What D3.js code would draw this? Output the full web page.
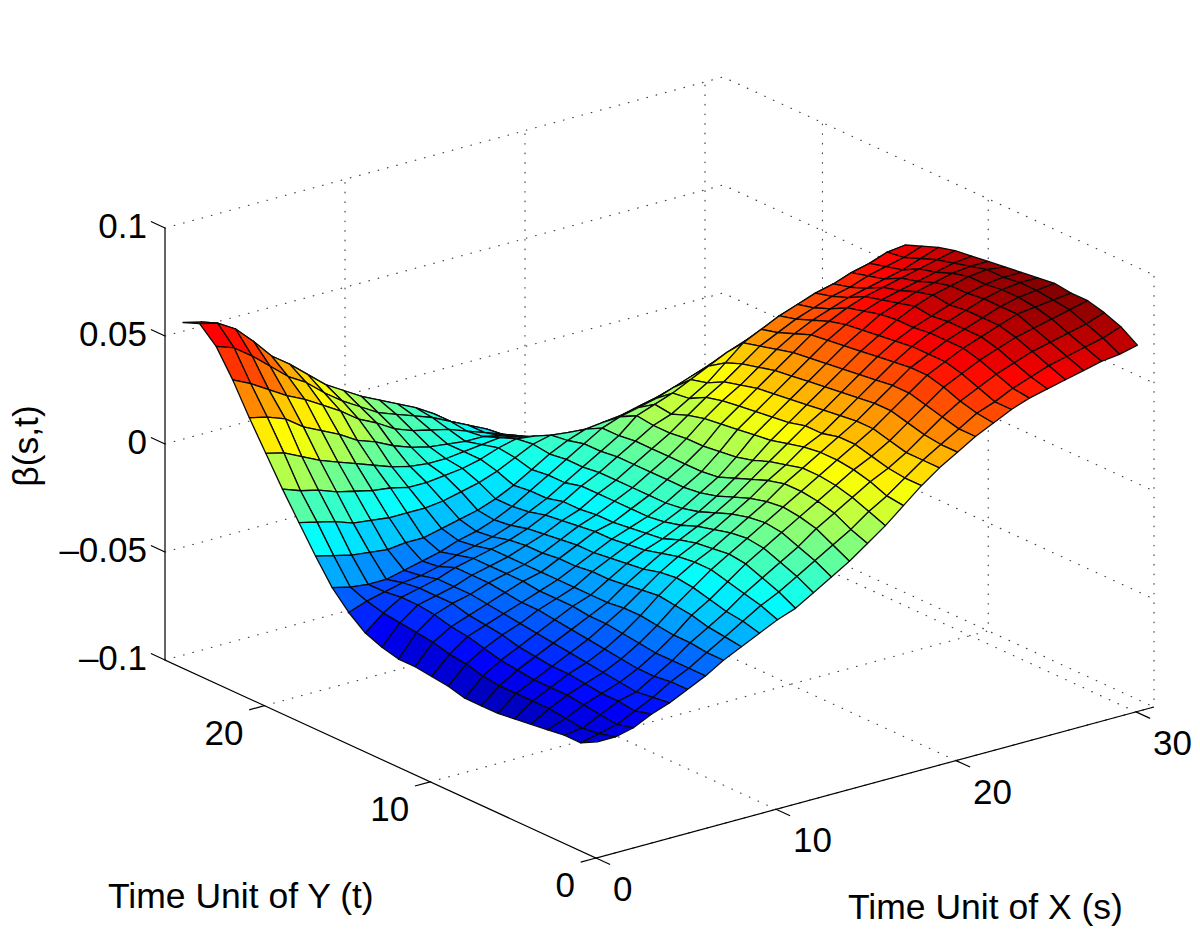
<!DOCTYPE html>
<html>
<head>
<meta charset="utf-8">
<style>
  body { margin: 0; background: #fff; }
  text { font-family: "Liberation Sans", Arial, sans-serif; fill: #000; }
</style>
<script src="https://cdn.jsdelivr.net/npm/d3@7"></script>
</head>
<body>
<div id="chart"></div>
<script>
var xTicks = [0, 10, 20, 30],
    yTicks = [0, 10, 20],
    zTicks = [-100, -50, 0, 50, 100],
    zTickLabels = ["–0.1", "–0.05", "0", "0.05", "0.1"],
    colorLimits = [-68, 75];

// beta(s,t) in thousandths. one row per t = 1..26, s = 1..31
var betaT01 = [-52,-52,-50,-46,-43,-39,-35,-30,-26,-22,-18,-15,-10,-5,0,6,12,19,26,32,37,42,46,50,53,55,57,59,61,62,64],
    betaT02 = [-56,-54,-52,-48,-44,-39,-35,-30,-25,-20,-15,-11,-6,-1,4,9,15,20,26,32,37,42,47,50,54,57,60,62,64,66,69],
    betaT03 = [-56,-55,-51,-47,-45,-40,-35,-29,-24,-19,-13,-8,-3,2,8,13,18,23,27,32,38,44,49,53,57,60,63,65,67,69,72],
    betaT04 = [-57,-54,-50,-47,-44,-40,-35,-29,-22,-17,-11,-5,0,5,10,15,20,25,29,34,40,46,52,56,60,63,66,68,70,72,74],
    betaT05 = [-58,-53,-49,-46,-43,-39,-34,-28,-21,-15,-9,-4,1,6,11,16,21,26,31,36,42,48,54,58,62,65,68,71,72,73,74],
    betaT06 = [-59,-53,-49,-45,-42,-38,-33,-27,-20,-14,-9,-5,0,5,10,16,21,26,31,36,42,48,54,58,62,65,68,71,73,74,75],
    betaT07 = [-60,-53,-49,-45,-41,-37,-32,-27,-21,-15,-10,-6,-2,3,8,14,19,25,29,35,41,47,53,58,62,65,68,71,73,74,74],
    betaT08 = [-60,-53,-48,-44,-40,-36,-32,-28,-22,-17,-12,-8,-4,0,5,11,17,23,29,34,40,46,52,57,61,64,67,70,72,73,73],
    betaT09 = [-60,-52,-47,-43,-39,-35,-31,-28,-23,-18,-14,-11,-7,-3,2,8,14,21,27,33,39,45,51,56,61,65,68,70,72,73,72],
    betaT10 = [-58,-50,-45,-41,-38,-34,-31,-28,-23,-19,-15,-12,-9,-5,0,5,12,20,26,32,38,44,50,55,60,63,66,68,70,71,71],
    betaT11 = [-57,-49,-43,-40,-37,-34,-31,-28,-24,-20,-16,-13,-10,-6,-1,4,11,19,25,31,37,43,49,54,58,61,63,65,67,69,70],
    betaT12 = [-56,-47,-42,-39,-36,-33,-30,-28,-24,-20,-16,-14,-10,-6,-1,4,10,18,24,30,36,42,48,52,56,59,61,63,65,67,69],
    betaT13 = [-56,-46,-40,-37,-35,-32,-30,-28,-25,-21,-17,-14,-10,-6,-1,4,10,17,23,28,34,40,45,49,52,55,57,59,61,64,67],
    betaT14 = [-54,-45,-39,-37,-35,-32,-30,-28,-25,-22,-18,-15,-10,-6,-1,4,9,15,21,26,32,38,42,46,49,52,54,57,59,61,64],
    betaT15 = [-51,-44,-39,-37,-35,-32,-30,-28,-26,-23,-19,-15,-10,-6,-1,4,9,12,17,22,29,36,40,44,47,50,52,55,57,60,61],
    betaT16 = [-45,-42,-40,-38,-37,-35,-32,-30,-28,-25,-21,-17,-12,-7,-2,3,10,13,16,20,24,28,31,34,37,39,41,43,46,49,52],
    betaT17 = [-37,-39,-40,-40,-38,-36,-34,-31,-29,-26,-22,-17,-12,-7,-2,3,6,8,10,13,16,19,21,24,26,28,30,32,34,37,40],
    betaT18 = [-26,-28,-30,-31,-32,-31,-31,-29,-27,-25,-22,-18,-13,-8,-4,-1,0,1,3,5,7,9,11,13,15,17,19,21,23,25,28],
    betaT19 = [-14,-16,-18,-21,-22,-23,-23,-23,-22,-20,-18,-15,-11,-7,-5,-6,-8,-8,-7,-6,-5,-4,-2,0,2,4,6,8,10,13,16],
    betaT20 = [-2,-5,-7,-10,-12,-14,-15,-17,-17,-16,-15,-13,-10,-8,-9,-12,-15,-15,-16,-16,-15,-14,-12,-10,-8,-6,-4,-2,0,2,4],
    betaT21 = [11,9,5,1,-2,-5,-8,-11,-13,-14,-14,-13,-12,-11,-13,-16,-19,-21,-21,-21,-21,-20,-19,-17,-15,-14,-12,-10,-8,-7,-6],
    betaT22 = [24,22,19,13,9,5,0,-3,-7,-10,-12,-13,-14,-14,-16,-19,-22,-24,-26,-26,-26,-25,-24,-23,-22,-21,-20,-19,-18,-17,-16],
    betaT23 = [38,34,29,24,20,15,10,4,0,-5,-8,-10,-12,-15,-18,-21,-24,-27,-30,-32,-33,-33,-33,-33,-32,-32,-32,-31,-31,-31,-31],
    betaT24 = [50,47,41,34,27,22,15,9,4,-1,-4,-7,-10,-14,-18,-22,-27,-31,-35,-38,-40,-42,-42,-42,-41,-41,-40,-40,-39,-39,-38],
    betaT25 = [57,55,50,42,33,27,20,13,8,3,-1,-5,-9,-14,-20,-25,-30,-35,-39,-42,-44,-46,-47,-47,-47,-46,-46,-45,-45,-44,-44],
    betaT26 = [54,52,48,42,32,25,17,11,5,-1,-5,-9,-13,-17,-21,-26,-31,-36,-40,-44,-47,-49,-50,-50,-50,-50,-49,-49,-48,-48,-47];

var beta = [betaT01, betaT02, betaT03, betaT04, betaT05, betaT06, betaT07, betaT08, betaT09, betaT10,
            betaT11, betaT12, betaT13, betaT14, betaT15, betaT16, betaT17, betaT18, betaT19, betaT20,
            betaT21, betaT22, betaT23, betaT24, betaT25, betaT26];

var width = 1200,
    height = 932,
    xMax = 31,
    yMax = 26;

var svg = d3.select("#chart").append("svg")
    .attr("width", width)
    .attr("height", height);

// the axes are oblique, so each data axis gets a scale for its screen x and its screen y
var xToU = d3.scaleLinear().domain([0, xMax]).range([0, 558]),
    xToV = d3.scaleLinear().domain([0, xMax]).range([0, -151]),
    yToU = d3.scaleLinear().domain([0, yMax]).range([0, -431]),
    yToV = d3.scaleLinear().domain([0, yMax]).range([0, -198]),
    zToV = d3.scaleLinear().domain([-100, 100]).range([0, -432]);

function project(x, y, z) {
  return [596 + xToU(x) + yToU(y), 858 + xToV(x) + yToV(y) + zToV(z)];
}

var line = d3.line();

// jet colormap
var jetT = d3.scaleLinear().domain(colorLimits).range([0, 1]),
    jet = d3.scaleLinear()
      .domain([0, 0.125, 0.375, 0.625, 0.875, 1])
      .range(["#00008f", "#0000ff", "#00ffff", "#ffff00", "#ff0000", "#800000"]);

// dotted grid on the two back walls and the floor
var gridLines = [];
zTicks.forEach(function(z) {
  gridLines.push([project(0, yMax, z), project(xMax, yMax, z), project(xMax, 0, z)]);
});
xTicks.slice(1).forEach(function(x) {
  gridLines.push([project(x, 0, -100), project(x, yMax, -100), project(x, yMax, 100)]);
});
yTicks.forEach(function(y) {
  gridLines.push([project(0, y, -100), project(xMax, y, -100), project(xMax, y, 100)]);
});

svg.append("g").attr("class", "grid")
  .selectAll("path")
    .data(gridLines)
  .enter().append("path")
    .attr("d", line)
    .attr("fill", "none")
    .attr("stroke", "#444")
    .attr("stroke-width", 1.2)
    .attr("stroke-linecap", "round")
    .attr("stroke-dasharray", "0.6 9");

// axis lines
var axisLines = [
  [project(0, yMax, 100), project(0, yMax, -100), project(0, 0, -100), project(xMax, 0, -100)]
];
var tickLen = 0.85;
zTicks.forEach(function(z) { axisLines.push([project(0, yMax, z), project(0, yMax + tickLen, z)]); });
xTicks.forEach(function(x) { axisLines.push([project(x, 0, -100), project(x, -tickLen, -100)]); });
yTicks.forEach(function(y) { axisLines.push([project(0, y, -100), project(-tickLen, y, -100)]); });

svg.append("g").attr("class", "axis")
  .selectAll("path")
    .data(axisLines)
  .enter().append("path")
    .attr("d", line)
    .attr("fill", "none")
    .attr("stroke", "#000")
    .attr("stroke-width", 1.2);

// surface, far cells first. cell colour comes from its (low s, high t) corner
var cells = [];
d3.range(yMax - 1, 0, -1).forEach(function(t) {
  d3.range(xMax - 1, 0, -1).forEach(function(s) {
    cells.push({s: s, t: t});
  });
});

function corner(s, t) { return project(s, t, beta[t - 1][s - 1]); }

svg.append("g").attr("class", "surface")
  .selectAll("path")
    .data(cells)
  .enter().append("path")
    .attr("d", function(d) {
      return line([corner(d.s, d.t), corner(d.s + 1, d.t), corner(d.s + 1, d.t + 1), corner(d.s, d.t + 1)]) + "Z";
    })
    .attr("fill", function(d) { return jet(jetT(beta[d.t][d.s - 1])); })
    .attr("stroke", "#0a0a0a")
    .attr("stroke-width", 1.3)
    .attr("stroke-linejoin", "round");

// tick labels
var fontSize = 35;

svg.append("g").selectAll("text")
    .data(zTicks)
  .enter().append("text")
    .attr("x", 147)
    .attr("y", function(d) { return project(0, yMax, d)[1] + 10; })
    .attr("text-anchor", "end")
    .attr("font-size", fontSize)
    .text(function(d, i) { return zTickLabels[i]; });

svg.append("g").selectAll("text")
    .data(xTicks)
  .enter().append("text")
    .attr("x", function(d) { return project(d, 0, -100)[0] + 17; })
    .attr("y", function(d) { return project(d, 0, -100)[1] + 43; })
    .attr("font-size", fontSize)
    .text(function(d) { return d; });

svg.append("g").selectAll("text")
    .data(yTicks)
  .enter().append("text")
    .attr("x", function(d) { return project(0, d, -100)[0] - 21; })
    .attr("y", function(d) { return project(0, d, -100)[1] + 39; })
    .attr("text-anchor", "end")
    .attr("font-size", fontSize)
    .text(function(d) { return d; });

// axis titles
svg.append("text")
    .attr("x", 108)
    .attr("y", 908)
    .attr("font-size", 35.5)
    .text("Time Unit of Y (t)");

svg.append("text")
    .attr("x", 848)
    .attr("y", 919)
    .attr("font-size", 35.5)
    .text("Time Unit of X (s)");

svg.append("text")
    .attr("transform", "translate(38,446) rotate(-90)")
    .attr("text-anchor", "middle")
    .attr("font-size", 35.5)
    .text("β(s,t)");
</script>
</body>
</html>
